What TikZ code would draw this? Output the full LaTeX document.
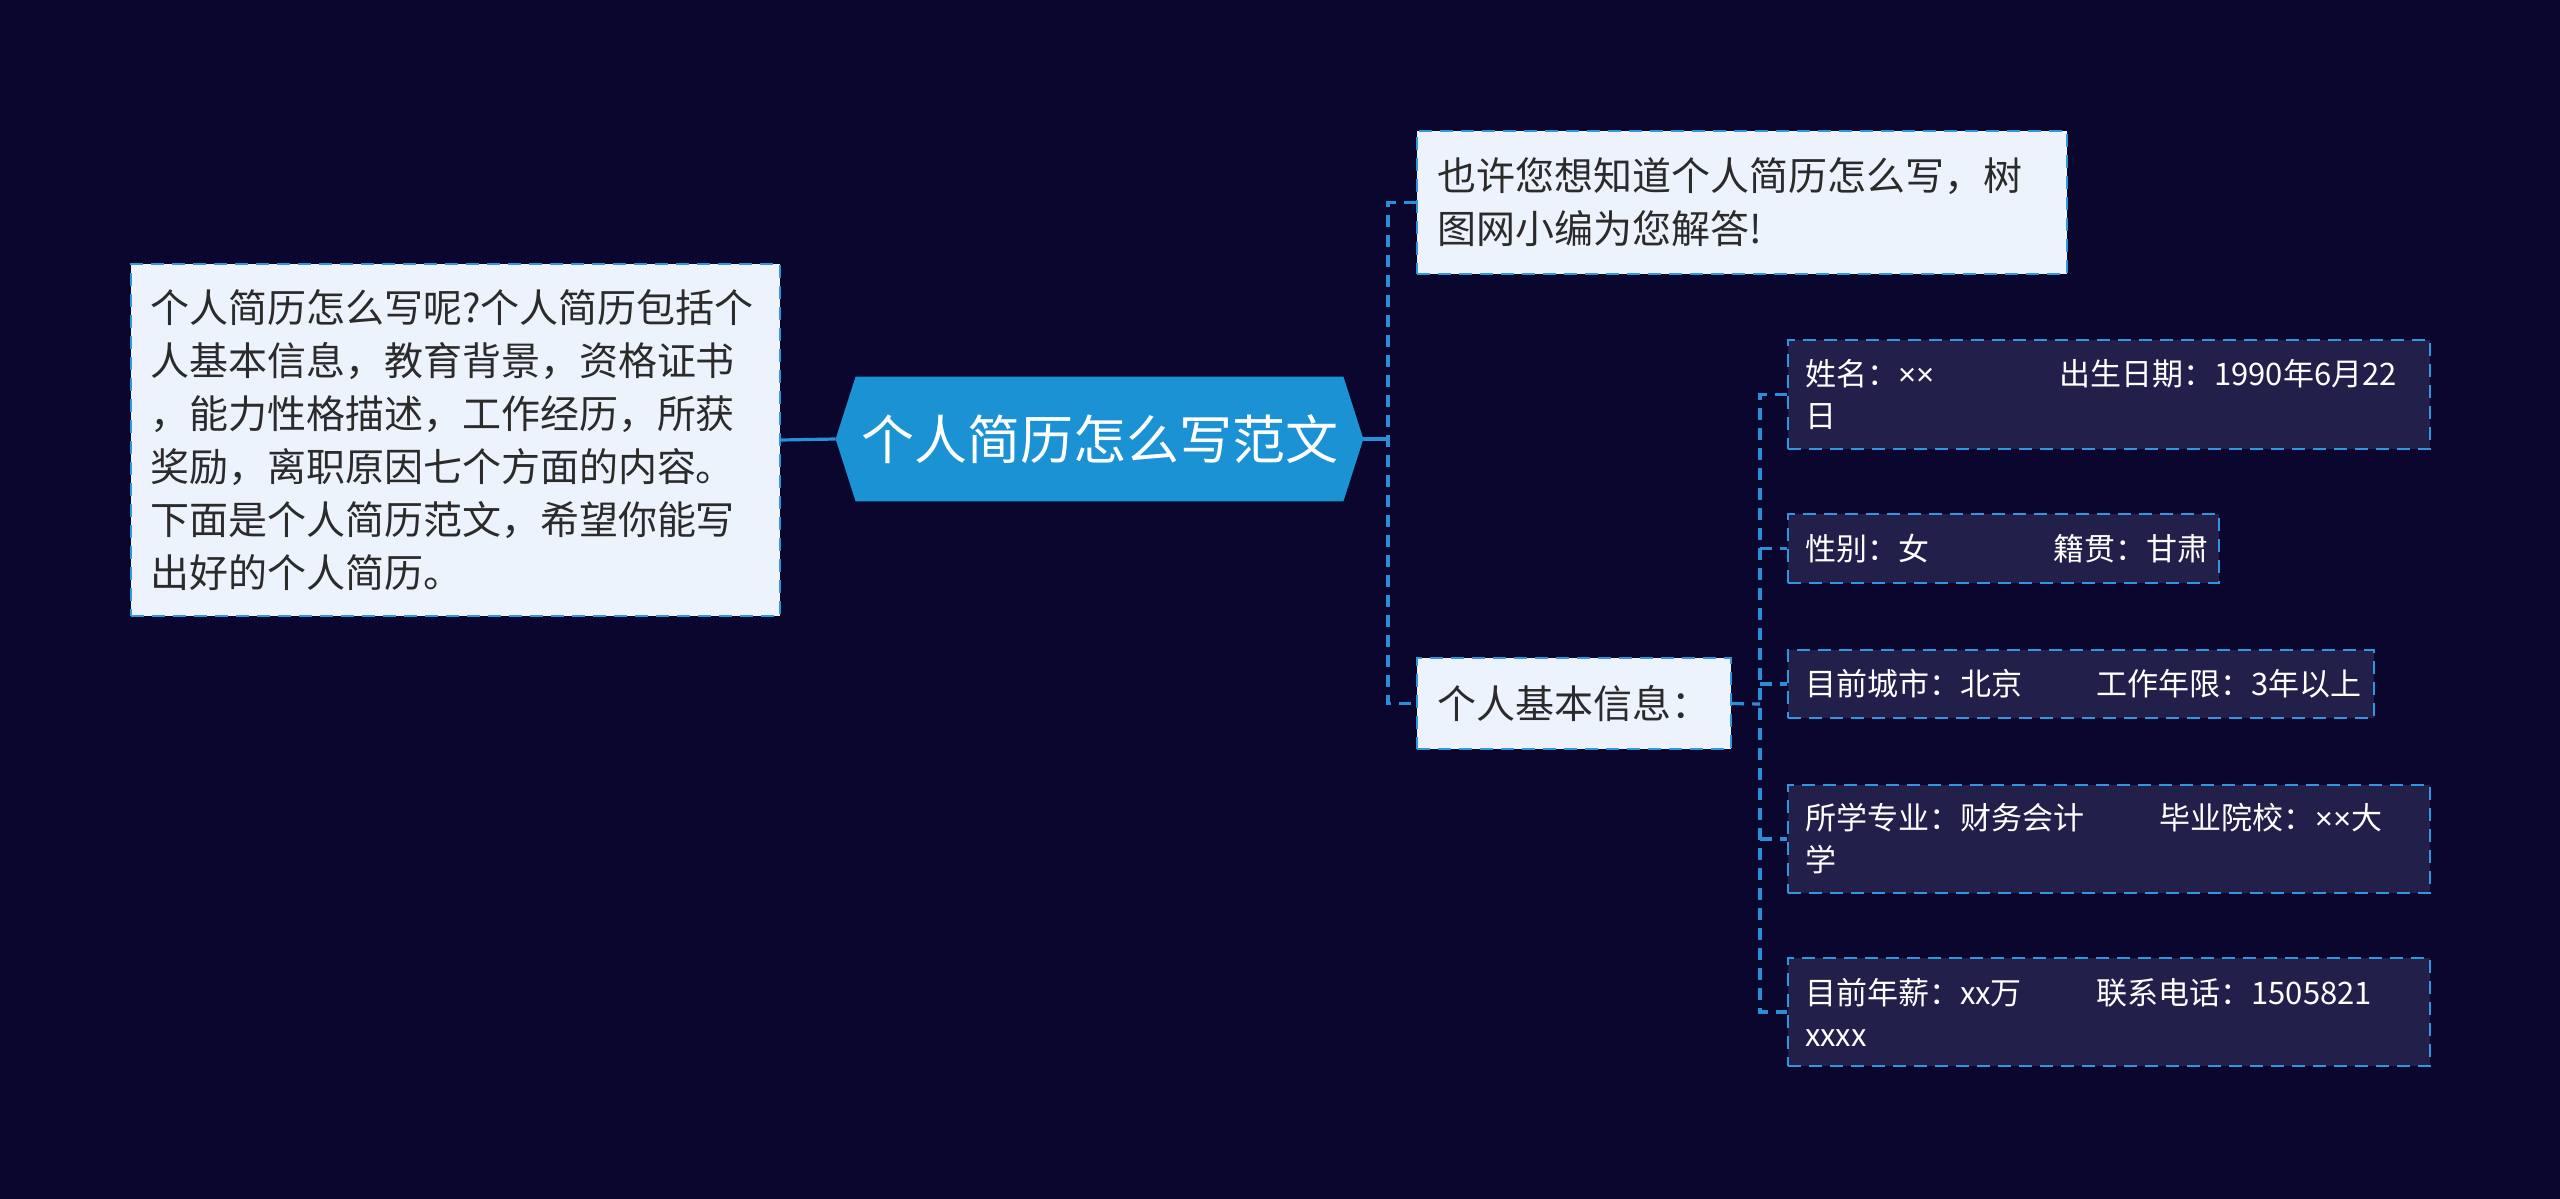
\documentclass[tikz,border=0pt]{standalone}
\usepackage{fontspec}
\setmainfont{Noto Sans CJK SC}
\newfontfamily\latinfont{Liberation Sans}
\usetikzlibrary{backgrounds}
\definecolor{bgcol}{HTML}{0A062D}
\definecolor{centralfill}{HTML}{1A92D4}
\definecolor{lightfill}{HTML}{EDF3FD}
\definecolor{darkfill}{HTML}{231F4B}
\definecolor{bordercol}{HTML}{3096DD}
\definecolor{linecol}{HTML}{2A8FD6}
\definecolor{textdark}{HTML}{2B2B2B}
\newcommand{\tms}{{\latinfont ×}}
\tikzset{
  lightbox/.style={draw=bordercol, line width=1.2pt, dash pattern=on 6.3pt off 4.2pt,
    fill=lightfill, text=textdark, font=\fontsize{19.5}{26.5}\selectfont,
    align=left, inner ysep=0pt},
  darkbox/.style={draw=bordercol, line width=1.2pt, dash pattern=on 6.3pt off 4.2pt,
    fill=darkfill, text=white, font=\fontsize{15.5}{21}\selectfont,
    align=left, inner ysep=0pt, inner xsep=8.5pt},
  centraltext/.style={text=white, font=\fontsize{26.5}{30}\selectfont,
    minimum width=263.5pt, minimum height=62pt, inner sep=0pt},
  link/.style={draw=linecol, line width=1.6pt},
  dlink/.style={draw=linecol, line width=1.6pt, dash pattern=on 6pt off 4pt}
}
\begin{document}
\begin{tikzpicture}[x=0.5pt,y=-0.5pt]
\useasboundingbox (0,0) rectangle (2560,1199);

% central topic
\node[centraltext] (c) at (1099.5,439) {个人简历怎么写范文};

% left description
\node[lightbox, text width=305.5pt, inner xsep=9.5pt, minimum height=176pt] (lb) at (455.5,440)
  {个人简历怎么写呢?个人简历包括个\\人基本信息，教育背景，资格证书\\，能力性格描述，工作经历，所获\\奖励，离职原因七个方面的内容。\\下面是个人简历范文，希望你能写\\出好的个人简历。};

% right first level
\node[lightbox, text width=305pt, inner xsep=10pt, minimum height=71.5pt] (top) at (1742,202.5)
  {也许您想知道个人简历怎么写，树\\图网小编为您解答!};
\node[lightbox, text width=137pt, inner xsep=10pt, minimum height=45.5pt] (info) at (1574,703.5)
  {个人基本信息：};

% second level
\node[darkbox, text width=304pt, minimum height=54.5pt] (d1) at (2109,394.5)
  {\makebox[8.2em][l]{姓名：\tms\tms}出生日期：1990年6月22\\日};
\node[darkbox, text width=198.5pt, minimum height=34.5pt] (d2) at (2003.5,548.5)
  {\makebox[8.03em][l]{性别：女}籍贯：甘肃};
\node[darkbox, text width=276pt, minimum height=34pt] (d3) at (2081,684)
  {\makebox[9.4em][l]{目前城市：北京}工作年限：3年以上};
\node[darkbox, text width=304pt, minimum height=54pt] (d4) at (2109,839)
  {\makebox[11.45em][l]{所学专业：财务会计}毕业院校：\tms\tms 大\\学};
\node[darkbox, text width=304pt, minimum height=54pt] (d5) at (2109,1012)
  {\makebox[9.4em][l]{目前年薪：xx万}联系电话：1505821\\xxxx};

\begin{scope}[on background layer]
  \fill[bgcol] (0,0) rectangle (2560,1199);
  \fill[centralfill] (c.west) -- ([xshift=10pt]c.north west) -- ([xshift=-10pt]c.north east)
    -- (c.east) -- ([xshift=-10pt]c.south east) -- ([xshift=10pt]c.south west) -- cycle;
\end{scope}

% connectors
\coordinate (j1) at (1388,439);
\coordinate (j2) at (1760,704);
\draw[link] (lb.east) -- (c.west);
\draw[link] (c.east) -- (j1);
\draw[dlink] (top.west) -| (j1) |- (info.west);
\draw[dlink] (info.east) -- (j2);
\draw[dlink] (d1.west) -| (j2) |- (d5.west);
\draw[dlink] (j2 |- d2.west) -- (d2.west);
\draw[dlink] (j2 |- d3.west) -- (d3.west);
\draw[dlink] (j2 |- d4.west) -- (d4.west);
\end{tikzpicture}
\end{document}
